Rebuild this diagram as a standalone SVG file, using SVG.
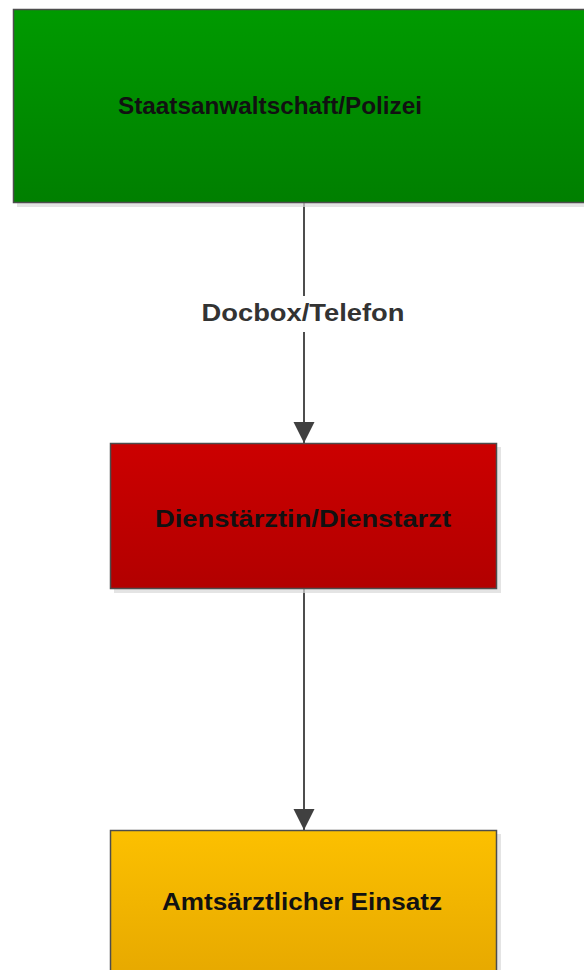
<svg xmlns="http://www.w3.org/2000/svg" width="584" height="970" viewBox="0 0 584 970">
<style>
.box{stroke:#4d4d4d;stroke-width:1.5}
.shadow{fill:#d9d9d9;opacity:0.7}
.lbl{font-family:"Liberation Sans",Arial,sans-serif;font-weight:bold;font-size:24px;fill:#111;text-anchor:middle}
.edge{stroke:#4d4d4d;stroke-width:2;fill:none}
.elbl{font-family:"Liberation Sans",Arial,sans-serif;font-weight:bold;font-size:23px;fill:#333;text-anchor:middle}
</style>
<defs>
<linearGradient id="gGreen" x1="0" y1="0" x2="0" y2="1"><stop offset="0" stop-color="#009a00"/><stop offset="1" stop-color="#007f00"/></linearGradient>
<linearGradient id="gRed" x1="0" y1="0" x2="0" y2="1"><stop offset="0" stop-color="#cc0000"/><stop offset="1" stop-color="#b20000"/></linearGradient>
<linearGradient id="gYellow" x1="0" y1="0" x2="0" y2="1"><stop offset="0" stop-color="#fcc000"/><stop offset="1" stop-color="#e6a800"/></linearGradient>
<marker id="arr" markerUnits="userSpaceOnUse" markerWidth="24" markerHeight="24" refX="21" refY="10.5" orient="auto">
<path d="M0,0 L21,10.5 L0,21 Z" fill="#404040"/>
</marker>
</defs>
<g id="connectors">
<line class="edge" x1="304" y1="203" x2="304" y2="443" marker-end="url(#arr)"/>
<rect x="196" y="296" width="214" height="36" fill="#fff"/>
<text class="elbl" x="303" y="321" textLength="203" lengthAdjust="spacingAndGlyphs">Docbox/Telefon</text>
<line class="edge" x1="304" y1="589" x2="304" y2="830" marker-end="url(#arr)"/>
</g>
<g id="n1">
<rect class="shadow" x="17" y="13" width="580" height="194"/>
<rect class="box" x="13.5" y="9.5" width="580" height="193" fill="url(#gGreen)"/>
<text class="lbl" x="270" y="114" textLength="304" lengthAdjust="spacingAndGlyphs">Staatsanwaltschaft/Polizei</text>
</g>
<g id="n2">
<rect class="shadow" x="114" y="447" width="387" height="146"/>
<rect class="box" x="110.5" y="443.5" width="386" height="145" fill="url(#gRed)"/>
<text class="lbl" x="303" y="527" textLength="296" lengthAdjust="spacingAndGlyphs">Dienstärztin/Dienstarzt</text>
</g>
<g id="n3">
<rect class="shadow" x="114" y="834" width="387" height="150"/>
<rect class="box" x="110.5" y="830.5" width="386" height="150" fill="url(#gYellow)"/>
<text class="lbl" x="302" y="910" textLength="280" lengthAdjust="spacingAndGlyphs">Amtsärztlicher Einsatz</text>
</g>
</svg>
